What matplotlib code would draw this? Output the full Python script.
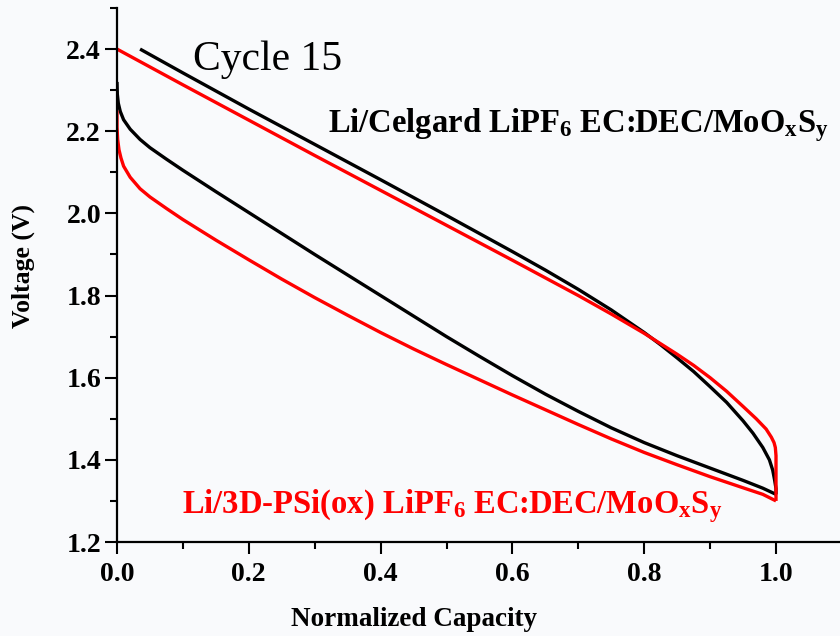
import numpy as np
import matplotlib
matplotlib.use("Agg")
import matplotlib.pyplot as plt
from matplotlib.ticker import MultipleLocator

# Li/Celgard cell (black): discharge then charge
celgard_dis_x = [0.0, 0.0005, 0.002, 0.005, 0.01, 0.02, 0.035, 0.05, 0.075, 0.1, 0.15, 0.2, 0.25,
                 0.3, 0.35, 0.4, 0.45, 0.5, 0.55, 0.6, 0.65, 0.7, 0.75, 0.8, 0.85, 0.9, 0.95, 0.98, 1.0]
celgard_dis_v = [2.32, 2.29, 2.268, 2.248, 2.228, 2.205, 2.18, 2.16, 2.132, 2.105, 2.053, 2.002, 1.951,
                 1.90, 1.85, 1.80, 1.75, 1.70, 1.652, 1.605, 1.56, 1.518, 1.478, 1.442, 1.41, 1.38,
                 1.35, 1.331, 1.316]
celgard_chg_x = [1.0, 1.0, 0.998, 0.995, 0.99, 0.98, 0.965, 0.95, 0.925, 0.9, 0.875, 0.85, 0.825,
                 0.8, 0.75, 0.7, 0.65, 0.6, 0.5, 0.4, 0.3, 0.2, 0.1, 0.035]
celgard_chg_v = [1.316, 1.33, 1.35, 1.375, 1.40, 1.43, 1.465, 1.495, 1.54, 1.578, 1.615, 1.648, 1.68,
                 1.71, 1.765, 1.815, 1.862, 1.907, 1.995, 2.082, 2.168, 2.254, 2.342, 2.40]

# Li/3D-PSi(ox) cell (red)
psi_dis_x = [0.0, 0.0, 0.001, 0.003, 0.006, 0.01, 0.02, 0.035, 0.05, 0.075, 0.1, 0.15, 0.2, 0.25,
             0.3, 0.35, 0.4, 0.45, 0.5, 0.55, 0.6, 0.65, 0.7, 0.75, 0.8, 0.85, 0.9, 0.95, 0.98, 1.0]
psi_dis_v = [2.25, 2.21, 2.18, 2.155, 2.135, 2.115, 2.088, 2.06, 2.04, 2.012, 1.985, 1.935, 1.887, 1.84,
             1.795, 1.752, 1.71, 1.67, 1.632, 1.595, 1.558, 1.522, 1.486, 1.451, 1.418, 1.388, 1.359,
             1.332, 1.316, 1.30]
psi_chg_x = [1.0, 1.0, 0.999, 0.997, 0.993, 0.985, 0.97, 0.95, 0.925, 0.9, 0.875, 0.85, 0.8, 0.75,
             0.7, 0.6, 0.5, 0.4, 0.3, 0.2, 0.1, 0.0]
psi_chg_v = [1.30, 1.41, 1.43, 1.442, 1.455, 1.475, 1.50, 1.53, 1.567, 1.60, 1.63, 1.657, 1.708, 1.755,
             1.80, 1.886, 1.971, 2.056, 2.141, 2.227, 2.313, 2.40]

x_ticks = [0.0, 0.2, 0.4, 0.6, 0.8, 1.0]
y_ticks = [1.2, 1.4, 1.6, 1.8, 2.0, 2.2, 2.4]

plt.rcParams["font.family"] = "Liberation Serif"
plt.rcParams["font.weight"] = "bold"
plt.rcParams["mathtext.fontset"] = "custom"
plt.rcParams["mathtext.rm"] = "Liberation Serif:bold"
plt.rcParams["mathtext.it"] = "Liberation Serif:bold"
plt.rcParams["mathtext.bf"] = "Liberation Serif:bold"

W, H = 840, 636
bg = "#f9fafc"
fig = plt.figure(figsize=(W / 100, H / 100), dpi=100, facecolor=bg)
ax = fig.add_axes([117 / W, 1 - 542 / H, (W - 117) / W, (542 - 8) / H], facecolor=bg)

for xs, vs, c in [(celgard_dis_x, celgard_dis_v, "black"),
                  (celgard_chg_x, celgard_chg_v, "black"),
                  (psi_dis_x, psi_dis_v, "#ff0000"),
                  (psi_chg_x, psi_chg_v, "#ff0000")]:
    ax.plot(xs, vs, color=c, lw=2.4, solid_joinstyle="round", solid_capstyle="butt")

ax.set_xlim(0, (W - 117) / 659)
ax.set_ylim(1.2, 2.5)
ax.set_xticks(x_ticks)
ax.set_yticks(y_ticks)
ax.xaxis.set_minor_locator(MultipleLocator(0.1))
ax.yaxis.set_minor_locator(MultipleLocator(0.1))
ax.tick_params(which="major", direction="out", length=8.5, width=1.5, labelsize=20)
ax.tick_params(which="minor", direction="out", length=5, width=1.5)
ax.tick_params(axis="y", pad=3)
ax.tick_params(axis="x", pad=6)
ax.set_xticklabels([f"{v:.1f}" for v in x_ticks])
ax.set_yticklabels([f"{v:.1f}" for v in y_ticks])

for side in ["top", "right"]:
    ax.spines[side].set_visible(False)
for side in ["left", "bottom"]:
    ax.spines[side].set_linewidth(1.6)

ax.set_xlabel("Normalized Capacity", fontsize=19.5, fontweight="bold", va="center")
ax.set_ylabel("Voltage (V)", fontsize=18.5, fontweight="bold", va="center")
ax.xaxis.set_label_coords((414 - 117) / 723, -(619 - 542) / 534)
ax.yaxis.set_label_coords(-(117 - 23) / 723, 0.517)

fig.text(193 / W, 1 - 70 / H, "Cycle 15", fontsize=30, fontweight="normal",
         va="baseline", ha="left")
fig.text(328 / W, 1 - 132 / H, r"Li/Celgard LiPF$_{6}$ EC:DEC/MoO$_{x}$S$_{y}$",
         fontsize=23.5, color="black", va="baseline", ha="left")
fig.text(182 / W, 1 - 513 / H, r"Li/3D-PSi(ox) LiPF$_{6}$ EC:DEC/MoO$_{x}$S$_{y}$",
         fontsize=23.5, color="#ff0000", va="baseline", ha="left")

fig.savefig("out.png", dpi=100, facecolor=bg)
